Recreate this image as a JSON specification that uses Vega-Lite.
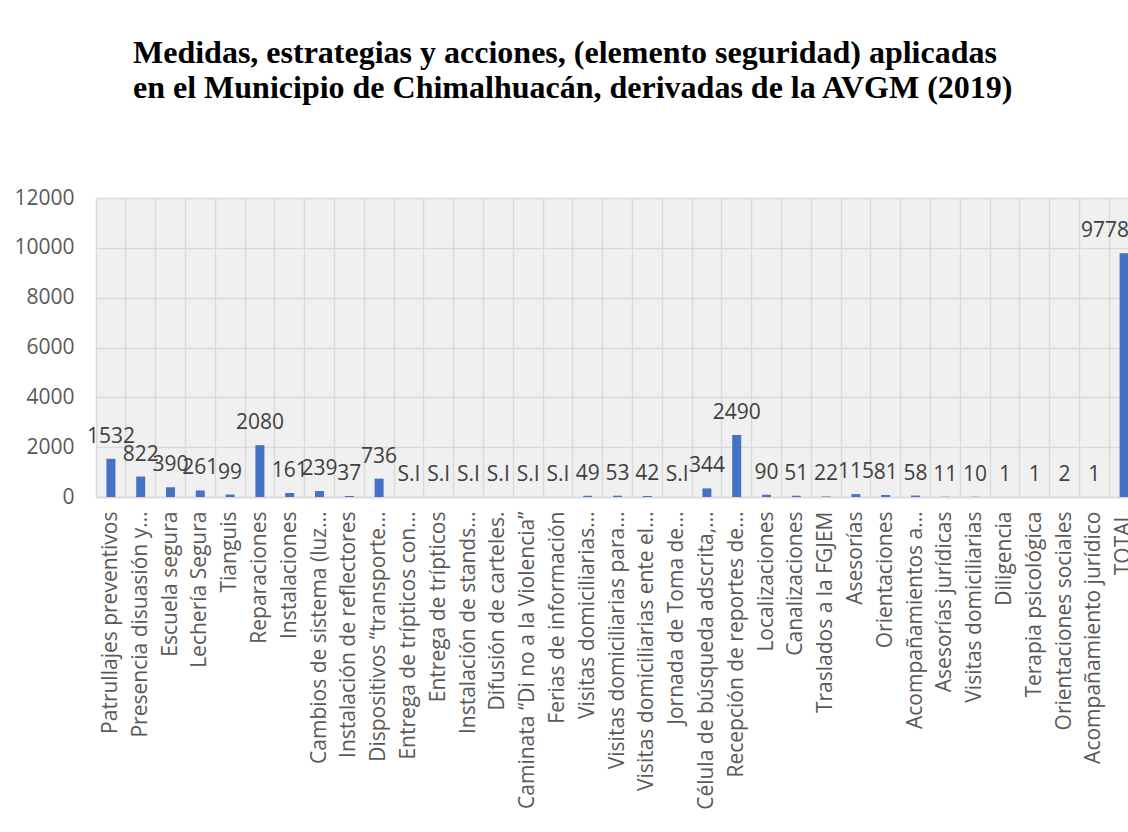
{
  "$schema": "https://vega.github.io/schema/vega-lite/v6.json",
  "autosize": "none",
  "width": 1043,
  "height": 299,
  "padding": {"left": 96, "top": 198, "right": 0, "bottom": 335},
  "background": "white",
  "title": {
    "text": ["Medidas, estrategias y acciones, (elemento seguridad) aplicadas", "en el Municipio de Chimalhuacán, derivadas de la AVGM (2019)"],
    "font": "Liberation Serif",
    "fontSize": 32,
    "fontWeight": "bold",
    "color": "#000000",
    "anchor": "start",
    "frame": "group",
    "dx": 37,
    "offset": 82,
    "lineHeight": 35
  },
  "config": {
    "view": {"fill": "#f0f0f0", "stroke": null},
    "axis": {"labelFont": "Open Sans", "labelColor": "#595959", "gridColor": "#d9d9d9", "gridWidth": 1.5}
  },
  "data": {
    "values": [
      {"categoria": "Patrullajes preventivos", "valor": 1532, "etiqueta": "1532"},
      {"categoria": "Presencia disuasión y…", "valor": 822, "etiqueta": "822"},
      {"categoria": "Escuela segura", "valor": 390, "etiqueta": "390"},
      {"categoria": "Lechería Segura", "valor": 261, "etiqueta": "261"},
      {"categoria": "Tianguis", "valor": 99, "etiqueta": "99"},
      {"categoria": "Reparaciones", "valor": 2080, "etiqueta": "2080"},
      {"categoria": "Instalaciones", "valor": 161, "etiqueta": "161"},
      {"categoria": "Cambios de sistema (luz…", "valor": 239, "etiqueta": "239"},
      {"categoria": "Instalación de reflectores", "valor": 37, "etiqueta": "37"},
      {"categoria": "Dispositivos “transporte…", "valor": 736, "etiqueta": "736"},
      {"categoria": "Entrega de trípticos con…", "valor": 0, "etiqueta": "S.I"},
      {"categoria": "Entrega de trípticos", "valor": 0, "etiqueta": "S.I"},
      {"categoria": "Instalación de stands…", "valor": 0, "etiqueta": "S.I"},
      {"categoria": "Difusión de carteles.", "valor": 0, "etiqueta": "S.I"},
      {"categoria": "Caminata “Di no a la Violencia”", "valor": 0, "etiqueta": "S.I"},
      {"categoria": "Ferias de información", "valor": 0, "etiqueta": "S.I"},
      {"categoria": "Visitas domiciliarias…", "valor": 49, "etiqueta": "49"},
      {"categoria": "Visitas domiciliarias para…", "valor": 53, "etiqueta": "53"},
      {"categoria": "Visitas domiciliarias ente el…", "valor": 42, "etiqueta": "42"},
      {"categoria": "Jornada de Toma de…", "valor": 0, "etiqueta": "S.I"},
      {"categoria": "Célula de búsqueda adscrita,…", "valor": 344, "etiqueta": "344"},
      {"categoria": "Recepción de reportes de…", "valor": 2490, "etiqueta": "2490"},
      {"categoria": "Localizaciones", "valor": 90, "etiqueta": "90"},
      {"categoria": "Canalizaciones", "valor": 51, "etiqueta": "51"},
      {"categoria": "Traslados a la FGJEM", "valor": 22, "etiqueta": "22"},
      {"categoria": "Asesorías", "valor": 115, "etiqueta": "115"},
      {"categoria": "Orientaciones", "valor": 81, "etiqueta": "81"},
      {"categoria": "Acompañamientos a…", "valor": 58, "etiqueta": "58"},
      {"categoria": "Asesorías jurídicas", "valor": 11, "etiqueta": "11"},
      {"categoria": "Visitas domiciliarias", "valor": 10, "etiqueta": "10"},
      {"categoria": "Diligencia", "valor": 1, "etiqueta": "1"},
      {"categoria": "Terapia psicológica", "valor": 1, "etiqueta": "1"},
      {"categoria": "Orientaciones sociales", "valor": 2, "etiqueta": "2"},
      {"categoria": "Acompañamiento jurídico", "valor": 1, "etiqueta": "1"},
      {"categoria": "TOTAL", "valor": 9778, "etiqueta": "9778"}
    ]
  },
  "encoding": {
    "x": {
      "field": "categoria",
      "type": "nominal",
      "sort": null,
      "scale": {"paddingInner": 0, "paddingOuter": 0},
      "axis": {
        "title": null,
        "labelAngle": -90,
        "labelAlign": "right",
        "labelBaseline": "middle",
        "labelFontSize": 21,
        "labelPadding": 14,
        "labelLimit": 400,
        "ticks": false,
        "grid": true,
        "bandPosition": 0,
        "domainColor": "#d9d9d9",
        "domainWidth": 1.5
      }
    },
    "y": {
      "field": "valor",
      "type": "quantitative",
      "scale": {"domain": [0, 12000], "nice": false},
      "axis": {
        "title": null,
        "values": [0, 2000, 4000, 6000, 8000, 10000, 12000],
        "format": "d",
        "labelFontSize": 21,
        "labelPadding": 22,
        "ticks": false,
        "domain": false
      }
    }
  },
  "layer": [
    {"mark": {"type": "bar", "color": "#4472C4", "size": 9}},
    {
      "mark": {
        "type": "text",
        "baseline": "bottom",
        "dy": -12,
        "align": {"expr": "datum.categoria === 'TOTAL' ? 'right' : 'center'"},
        "dx": {"expr": "datum.categoria === 'TOTAL' ? 5 : 0"},
        "font": "Open Sans",
        "fontSize": 21,
        "color": "#404040"
      },
      "encoding": {"text": {"field": "etiqueta"}}
    }
  ]
}
